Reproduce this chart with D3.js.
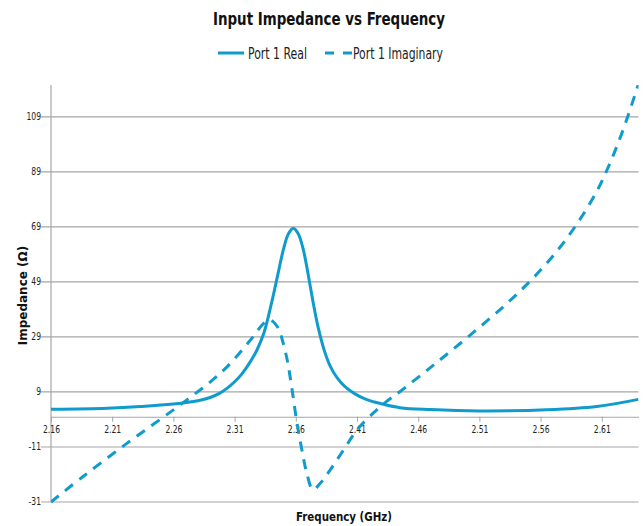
<!DOCTYPE html>
<html>
<head>
<meta charset="utf-8">
<script src="https://cdn.jsdelivr.net/npm/d3@7"></script>
<style>
  html, body { margin: 0; padding: 0; background: #fff; }
  svg { display: block; }
</style>
</head>
<body>
<div id="chart"></div>
<script>
// Input impedance of port 1 against frequency (GHz)
const realFreq = [2.160, 2.206, 2.233, 2.260, 2.280, 2.290, 2.298, 2.304, 2.310, 2.316, 2.322, 2.328, 2.334, 2.340,
                  2.345, 2.350, 2.354, 2.358, 2.362, 2.366, 2.370, 2.374, 2.378, 2.383, 2.388, 2.394, 2.400,
                  2.408, 2.418, 2.430, 2.445, 2.470, 2.510, 2.565, 2.606, 2.640];
const realOhm  = [2.7, 3.1, 3.7, 4.6, 5.8, 7.0, 8.6, 10.4, 12.7, 15.6, 19.4, 24.0, 30.5, 41.0,
                  51.0, 61.0, 66.5, 68.5, 66.5, 61.0, 52.0, 42.0, 33.0, 24.5, 18.5, 14.0, 11.0,
                  8.4, 6.2, 4.7, 3.3, 2.6, 2.1, 2.5, 3.7, 6.3];

const imagFreq = [2.160, 2.186, 2.222, 2.260, 2.276, 2.290, 2.304, 2.323, 2.334, 2.339, 2.346, 2.349, 2.353, 2.357,
                  2.361, 2.365, 2.369, 2.374, 2.380, 2.388, 2.399, 2.410, 2.423, 2.434, 2.445, 2.472, 2.502, 2.532,
                  2.553, 2.573, 2.590, 2.606, 2.617, 2.628, 2.640];
const imagOhm  = [-31.0, -21.8, -9.7, 2.5, 7.8, 12.6, 18.2, 27.9, 34.0, 35.2, 32.0, 27.9, 20.6, 9.7,
                  -2.4, -12.1, -20.6, -26.5, -24.2, -19.4, -12.1, -4.8, 1.2, 5.5, 9.1, 18.6, 29.5, 41.0,
                  50.0, 60.0, 70.3, 82.0, 92.5, 105.0, 121.0];

const yTicks = [-31, -11, 9, 29, 49, 69, 89, 109];
const xTicks = [2.16, 2.21, 2.26, 2.31, 2.36, 2.41, 2.46, 2.51, 2.56, 2.61];
const seriesNames = ["Port 1 Real", "Port 1 Imaginary"];

const W = 643, H = 526;
const plot = { left: 51, right: 638.5, top: 85, bottom: 502 };
const blue = "#0f9bcc";
const grid = "#a6a6a6";
const cond = "'DejaVu Sans Condensed', sans-serif";

const svg = d3.select("#chart").append("svg").attr("width", W).attr("height", H);

const x = d3.scaleLinear().domain([2.16, 2.64]).range([plot.left, plot.right]);
const y = d3.scaleLinear().domain([-31, 120.6]).range([plot.bottom, plot.top]);

// horizontal gridlines with their tick stubs
svg.append("g").selectAll("line").data(yTicks).join("line")
  .attr("x1", plot.left - 10).attr("x2", plot.right)
  .attr("y1", d => y(d)).attr("y2", d => y(d))
  .attr("stroke", grid).attr("stroke-width", 1.2);

// y tick labels
svg.append("g").selectAll("text").data(yTicks).join("text")
  .attr("x", plot.left - 10).attr("y", d => y(d))
  .attr("dy", "0.35em").attr("text-anchor", "end")
  .attr("font-family", cond).attr("font-size", 10).attr("fill", "#222")
  .attr("transform", d => `translate(${plot.left - 10},${y(d)}) scale(0.85,1) translate(${-(plot.left - 10)},${-y(d)})`)
  .text(d => d);

// y axis line
svg.append("line")
  .attr("x1", plot.left).attr("x2", plot.left)
  .attr("y1", plot.top).attr("y2", plot.bottom)
  .attr("stroke", grid).attr("stroke-width", 1.2);

// x axis at zero
const xAxis = d3.axisBottom(x).tickValues(xTicks).tickFormat(d3.format(".2f"))
  .tickSize(5).tickSizeOuter(0).tickPadding(4);
const gx = svg.append("g").attr("transform", `translate(0,${y(0)})`).call(xAxis);
gx.select(".domain").attr("stroke", grid).attr("stroke-width", 1.2);
gx.selectAll(".tick line").attr("stroke", grid);
gx.selectAll(".tick text").attr("font-family", cond).attr("font-size", 10).attr("fill", "#222")
  .attr("transform", "scale(0.85,1)");

// clip curves to the plotting area
svg.append("clipPath").attr("id", "plot-clip").append("rect")
  .attr("x", plot.left).attr("y", plot.top)
  .attr("width", plot.right - plot.left).attr("height", plot.bottom - plot.top + 2);

const line = d3.line().x(d => x(d[0])).y(d => y(d[1])).curve(d3.curveCatmullRom.alpha(0.5));

const curves = svg.append("g").attr("clip-path", "url(#plot-clip)");
curves.append("path")
  .datum(imagFreq.map((f, i) => [f, imagOhm[i]]))
  .attr("d", line).attr("fill", "none")
  .attr("stroke", blue).attr("stroke-width", 3)
  .attr("stroke-dasharray", "10,8");
curves.append("path")
  .datum(realFreq.map((f, i) => [f, realOhm[i]]))
  .attr("d", line).attr("fill", "none")
  .attr("stroke", blue).attr("stroke-width", 3);

// title
svg.append("text")
  .attr("x", 213).attr("y", 25)
  .attr("textLength", 232).attr("lengthAdjust", "spacingAndGlyphs")
  .attr("font-family", cond).attr("font-weight", "bold").attr("font-size", 18)
  .attr("fill", "#111")
  .text("Input Impedance vs Frequency");

// legend
const legend = svg.append("g").attr("font-family", cond).attr("font-size", 15).attr("fill", "#222");
legend.append("line").attr("x1", 218).attr("x2", 244).attr("y1", 53).attr("y2", 53)
  .attr("stroke", blue).attr("stroke-width", 3);
legend.append("text").attr("x", 248).attr("y", 59)
  .attr("textLength", 59).attr("lengthAdjust", "spacingAndGlyphs").text(seriesNames[0]);
legend.append("line").attr("x1", 325).attr("x2", 352).attr("y1", 53).attr("y2", 53)
  .attr("stroke", blue).attr("stroke-width", 3).attr("stroke-dasharray", "9,9");
legend.append("text").attr("x", 353).attr("y", 59)
  .attr("textLength", 90).attr("lengthAdjust", "spacingAndGlyphs").text(seriesNames[1]);

// axis titles
svg.append("text")
  .attr("transform", `translate(27,${(plot.top + plot.bottom) / 2 + 2}) rotate(-90)`)
  .attr("text-anchor", "middle")
  .attr("font-family", "'DejaVu Sans', sans-serif").attr("font-weight", "bold").attr("font-size", 12)
  .attr("fill", "#111")
  .text("Impedance (Ω)");

svg.append("text")
  .attr("x", 296).attr("y", 521)
  .attr("textLength", 96).attr("lengthAdjust", "spacingAndGlyphs")
  .attr("font-family", cond).attr("font-weight", "bold").attr("font-size", 13)
  .attr("fill", "#111")
  .text("Frequency (GHz)");
</script>
</body>
</html>
